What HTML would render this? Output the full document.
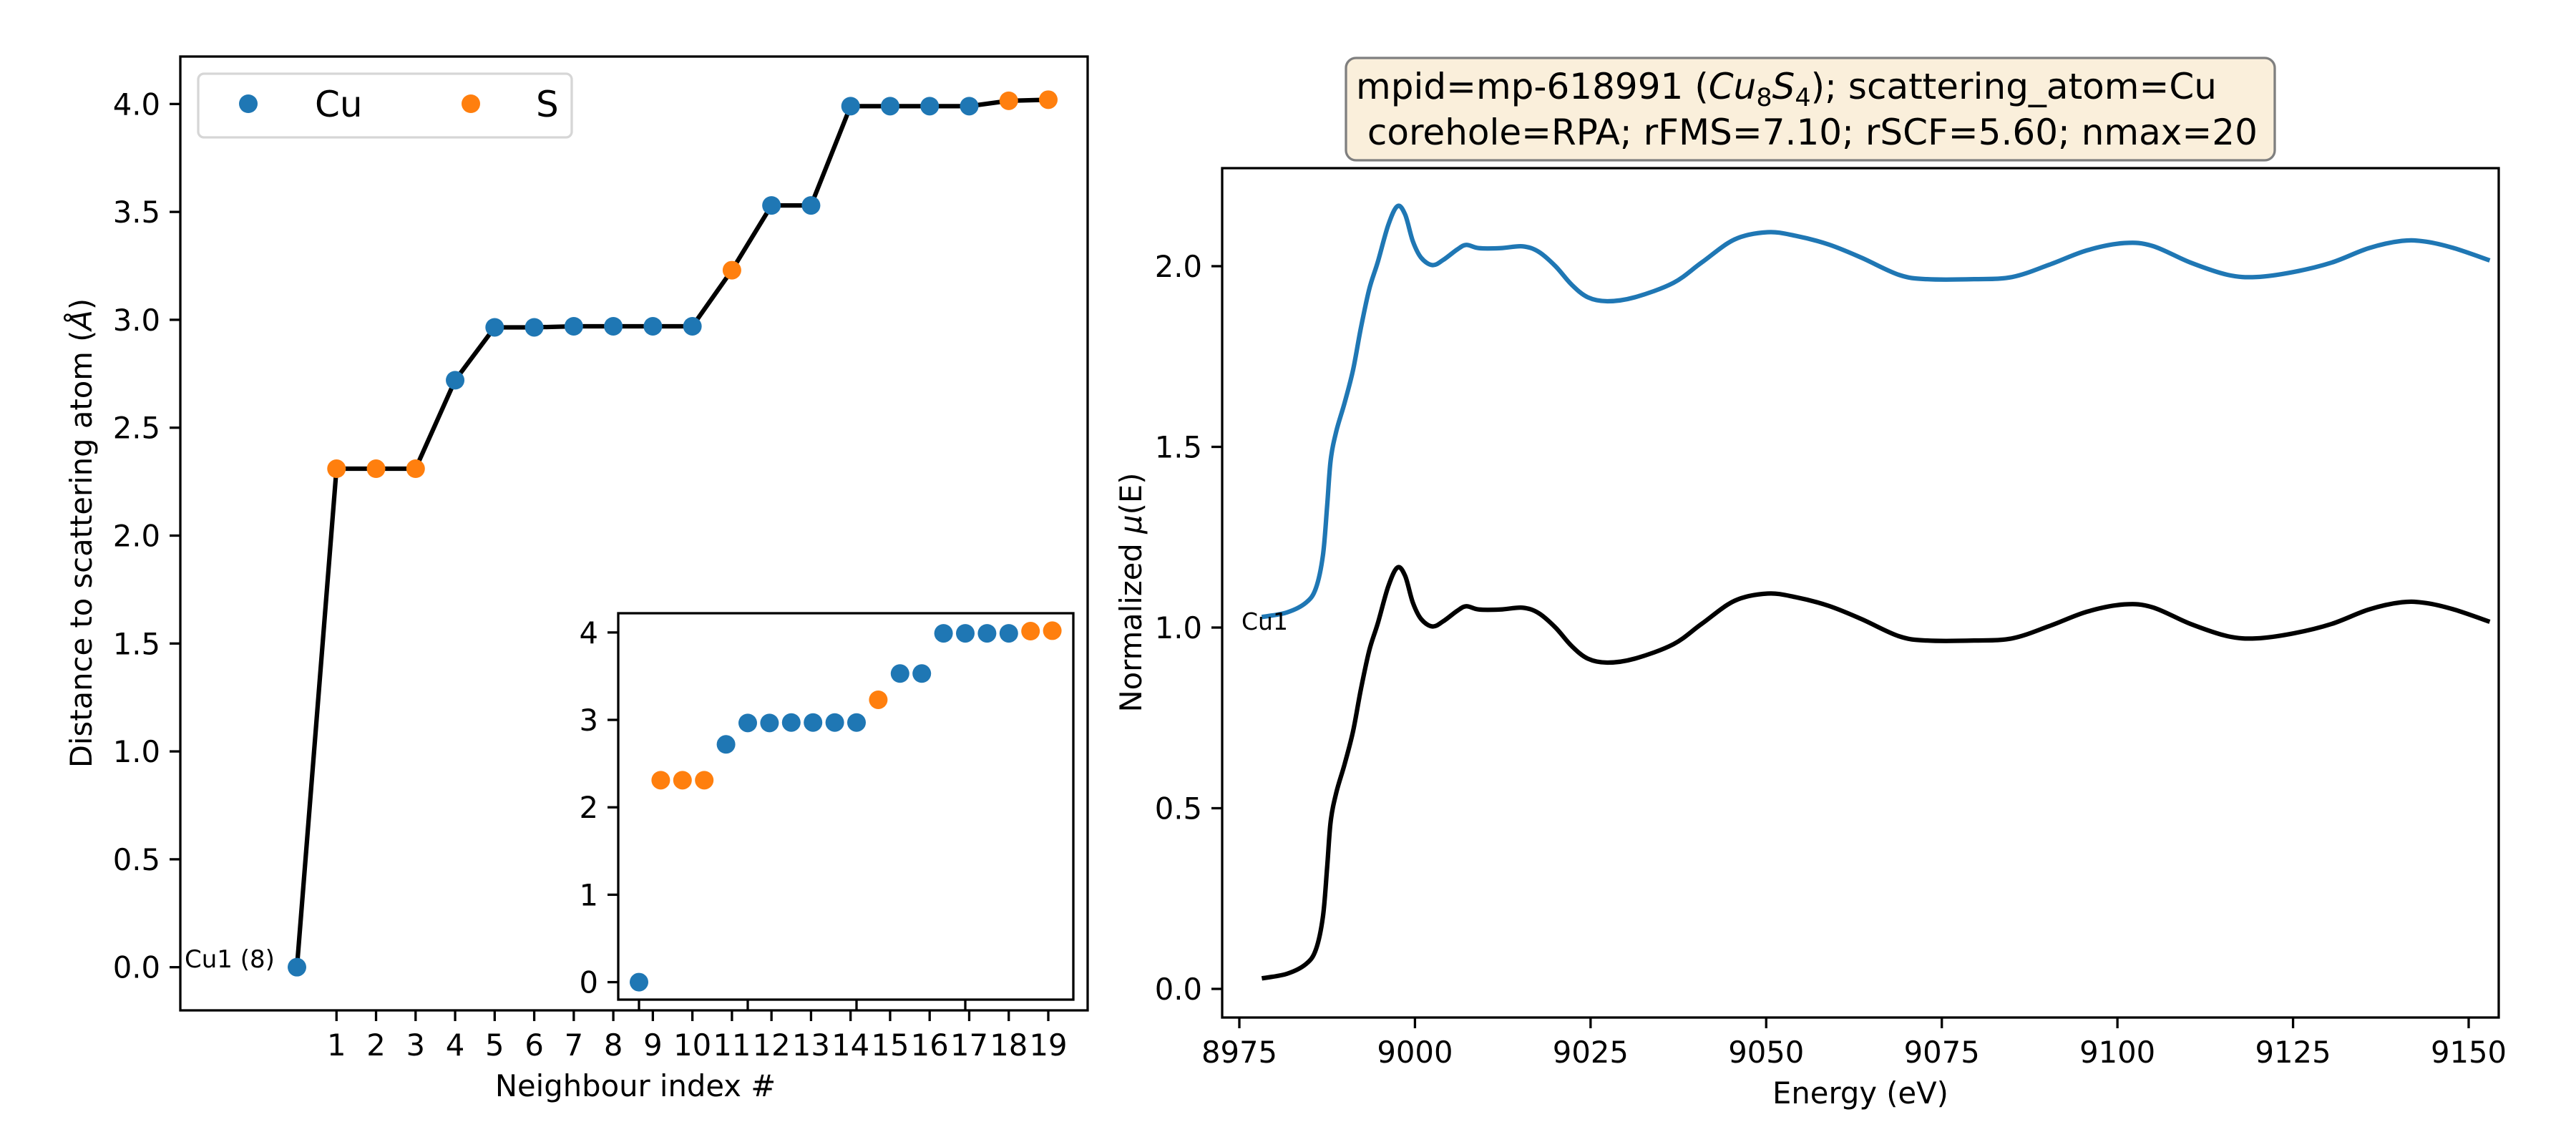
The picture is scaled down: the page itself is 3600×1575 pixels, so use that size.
<!DOCTYPE html>
<html><head><meta charset="utf-8">
<style>
html,body{margin:0;padding:0;background:#fff;}
svg{display:block;}
text{font-family:"DejaVu Sans","Liberation Sans",sans-serif;fill:#000;}
</style></head>
<body>
<svg id="fig" width="3600" height="1575" viewBox="0 0 3600 1575" xmlns="http://www.w3.org/2000/svg">
<rect width="3600" height="1575" fill="#fff"/>
<g id="left"></g>
<g id="inset"></g>
<g id="right"></g>
</svg>
<script>
const neighbourIdx = [0,1,2,3,4,5,6,7,8,9,10,11,12,13,14,15,16,17,18,19];
const distances = [0.0,2.31,2.31,2.31,2.72,2.965,2.965,2.97,2.97,2.97,2.97,3.23,3.53,3.53,3.99,3.99,3.99,3.99,4.015,4.02];
const species = ["Cu","S","S","S","Cu","Cu","Cu","Cu","Cu","Cu","Cu","S","Cu","Cu","Cu","Cu","Cu","Cu","S","S"];
const mainYTicks = [0,0.5,1,1.5,2,2.5,3,3.5,4];
const mainYTickLabels = ["0.0","0.5","1.0","1.5","2.0","2.5","3.0","3.5","4.0"];
const mainXTicks = [1,2,3,4,5,6,7,8,9,10,11,12,13,14,15,16,17,18,19];
const insetXTicks = [0,5,10,15];
const insetYTicks = [0,1,2,3,4];
const energies = [8978.2,8981.8,8984.5,8985.9,8986.9,8987.5,8988.0,8988.8,8990.0,8991.2,8992.3,8993.5,8994.7,8996.2,8997.5,8998.6,8999.7,9000.9,9002.5,9004.0,9006.0,9007.3,9009.1,9012.2,9015.3,9017.6,9020.0,9022.3,9024.6,9027.4,9031.3,9036.8,9040.8,9045.5,9050.2,9054.2,9058.9,9063.5,9068.9,9072.9,9079.6,9085.0,9090.3,9095.7,9101.0,9105.0,9110.4,9115.7,9119.8,9125.1,9130.5,9135.8,9140.5,9143.9,9147.9,9153.0];
const muCu1 = [0.029,0.042,0.069,0.109,0.20,0.337,0.463,0.543,0.623,0.714,0.829,0.937,1.011,1.114,1.166,1.143,1.069,1.023,1.003,1.017,1.046,1.059,1.050,1.050,1.055,1.04,1.0,0.949,0.914,0.903,0.914,0.954,1.01,1.074,1.094,1.084,1.06,1.024,0.976,0.964,0.964,0.97,1.004,1.044,1.064,1.056,1.01,0.976,0.97,0.984,1.01,1.05,1.07,1.068,1.05,1.016];
const avgOffset = 1.0;
const rightXTicks = [8975,9000,9025,9050,9075,9100,9125,9150];
const rightYTicks = [0,0.5,1.0,1.5,2.0];
const rightYTickLabels = ["0.0","0.5","1.0","1.5","2.0"];

const NS="http://www.w3.org/2000/svg";
const BLUE="#1f77b4", ORANGE="#ff7f0e";
function mk(parent,tag,attrs,txt){const e=document.createElementNS(NS,tag);for(const k in attrs)e.setAttribute(k,attrs[k]);if(txt!==undefined)e.textContent=txt;parent.appendChild(e);return e;}
function lin(d0,d1,p0,p1){return v=>p0+(v-d0)*(p1-p0)/(d1-d0);}

// ---- left main axes ----
const L=document.getElementById('left');
const lx=lin(0,19,415,1465), ly=lin(-0.2,4.22,1412,79);
let dpath=neighbourIdx.map((v,i)=>(i?'L':'M')+lx(v)+','+ly(distances[i])).join(' ');
const ml=mk(L,'path',{d:dpath,fill:'none',stroke:'#000','stroke-width':6.25,'stroke-linejoin':'round'});


neighbourIdx.forEach((v,i)=>{
  const c=mk(L,'circle',{cx:lx(v),cy:ly(distances[i]),r:13,fill:species[i]==='Cu'?BLUE:ORANGE});
  
  
});
const lf=mk(L,'rect',{x:252,y:79,width:1268,height:1333,fill:'none',stroke:'#000','stroke-width':3.3});


mainYTicks.forEach((t,i)=>{
  const y=ly(t);
  mk(L,'line',{x1:252,x2:237,y1:y,y2:y,stroke:'#000','stroke-width':3.3});
  const tl=mk(L,'text',{x:224,y:y+15,'font-size':41.7,'text-anchor':'end'},mainYTickLabels[i]);
  
  
});
mainXTicks.forEach(t=>{
  const x=lx(t);
  mk(L,'line',{x1:x,x2:x,y1:1412,y2:1427,stroke:'#000','stroke-width':3.3});
  const tl=mk(L,'text',{x:x,y:1475,'font-size':41.7,'text-anchor':'middle'},String(t));
  
  
});
mk(L,'text',{x:888,y:1532,'font-size':41.7,'text-anchor':'middle',},'Neighbour index #');
const yt=mk(L,'text',{x:0,y:0,'font-size':41.7,'text-anchor':'middle',transform:'translate(128,745) rotate(-90)',});
yt.innerHTML='Distance to scattering atom (<tspan font-style="italic">Å</tspan>)';
mk(L,'text',{x:258,y:1352,'font-size':34,},'Cu1 (8)');
// legend
const lg=mk(L,'g',{});
mk(lg,'rect',{x:277,y:103,width:522,height:89,rx:8,fill:'#fff',stroke:'#d6d6d6','stroke-width':3.3});
mk(lg,'circle',{cx:347,cy:145,r:13,fill:BLUE,});
mk(lg,'text',{x:440,y:163,'font-size':50,},'Cu');
mk(lg,'circle',{cx:658,cy:145,r:13,fill:ORANGE,});
mk(lg,'text',{x:749,y:163,'font-size':50,},'S');

// ---- inset ----
const I=document.getElementById('inset');
const ix=lin(0,19,893,1470.6), iy=lin(-0.2,4.22,1397,857);
mk(I,'rect',{x:864,y:857,width:636,height:540,fill:'#fff',stroke:'none'});
neighbourIdx.forEach((v,i)=>{
  const c=mk(I,'circle',{cx:ix(v),cy:iy(distances[i]),r:13,fill:species[i]==='Cu'?BLUE:ORANGE});
  
  
});
mk(I,'rect',{x:864,y:857,width:636,height:540,fill:'none',stroke:'#000','stroke-width':3.3,});
insetYTicks.forEach(t=>{
  const y=iy(t);
  mk(I,'line',{x1:864,x2:849,y1:y,y2:y,stroke:'#000','stroke-width':3.3});
  const tl=mk(I,'text',{x:836,y:y+15,'font-size':41.7,'text-anchor':'end'},String(t));
  
  
});
insetXTicks.forEach(t=>{
  const x=ix(t);
  mk(I,'line',{x1:x,x2:x,y1:1397,y2:1412,stroke:'#000','stroke-width':3.3});
});

// ---- right spectrum ----
const R=document.getElementById('right');
const rx=lin(8975,9150,1732,3450), ry=lin(0,2,1382,372);
function smooth(xs,ys){
  const p=xs.map((v,i)=>[rx(v),ry(ys[i])]);
  let d='M'+p[0][0]+','+p[0][1];
  for(let i=0;i<p.length-1;i++){
    const p0=p[Math.max(i-1,0)],p1=p[i],p2=p[i+1],p3=p[Math.min(i+2,p.length-1)];
    const c1=[p1[0]+(p2[0]-p0[0])/6,p1[1]+(p2[1]-p0[1])/6];
    const c2=[p2[0]-(p3[0]-p1[0])/6,p2[1]-(p3[1]-p1[1])/6];
    d+=` C${c1[0]},${c1[1]} ${c2[0]},${c2[1]} ${p2[0]},${p2[1]}`;
  }
  return d;
}
const blueLine=mk(R,'path',{d:smooth(energies,muCu1.map(v=>v+avgOffset)),fill:'none',stroke:BLUE,'stroke-width':6.25});


const blackLine=mk(R,'path',{d:smooth(energies,muCu1),fill:'none',stroke:'#000','stroke-width':6.25});


mk(R,'rect',{x:1708,y:235,width:1784,height:1187,fill:'none',stroke:'#000','stroke-width':3.3,});
rightYTicks.forEach((t,i)=>{
  const y=ry(t);
  mk(R,'line',{x1:1708,x2:1693,y1:y,y2:y,stroke:'#000','stroke-width':3.3});
  const tl=mk(R,'text',{x:1680,y:y+15,'font-size':41.7,'text-anchor':'end'},rightYTickLabels[i]);
  
  
});
rightXTicks.forEach(t=>{
  const x=rx(t);
  mk(R,'line',{x1:x,x2:x,y1:1422,y2:1437,stroke:'#000','stroke-width':3.3});
  const tl=mk(R,'text',{x:x,y:1485,'font-size':41.7,'text-anchor':'middle'},String(t));
  
  
});
mk(R,'text',{x:2600,y:1542,'font-size':41.7,'text-anchor':'middle',},'Energy (eV)');
const ryt=mk(R,'text',{x:0,y:0,'font-size':41.7,'text-anchor':'middle',transform:'translate(1595,828) rotate(-90)',});
ryt.innerHTML='Normalized <tspan font-style="italic">μ</tspan>(E)';
mk(R,'text',{x:1735,y:880,'font-size':33,},'Cu1');
// title box
const tb=mk(R,'g',{});
mk(tb,'rect',{x:1881,y:81,width:1298,height:143,rx:14,fill:'#faefdb',stroke:'#7f7f7f','stroke-width':3.3});
const t1=mk(tb,'text',{x:1895,y:138,'font-size':50,'text-anchor':'start'});
t1.innerHTML='mpid=mp-618991 (<tspan font-style="italic">Cu</tspan><tspan font-size="35" dy="10">8</tspan><tspan font-style="italic" dy="-10">S</tspan><tspan font-size="35" dy="10">4</tspan><tspan dy="-10">); scattering_atom=Cu</tspan>';


const t2=mk(tb,'text',{x:1895,y:202,'font-size':50,'text-anchor':'start','xml:space':'preserve'},'\u00a0corehole=RPA; rFMS=7.10; rSCF=5.60; nmax=20');


</script>
</body></html>
